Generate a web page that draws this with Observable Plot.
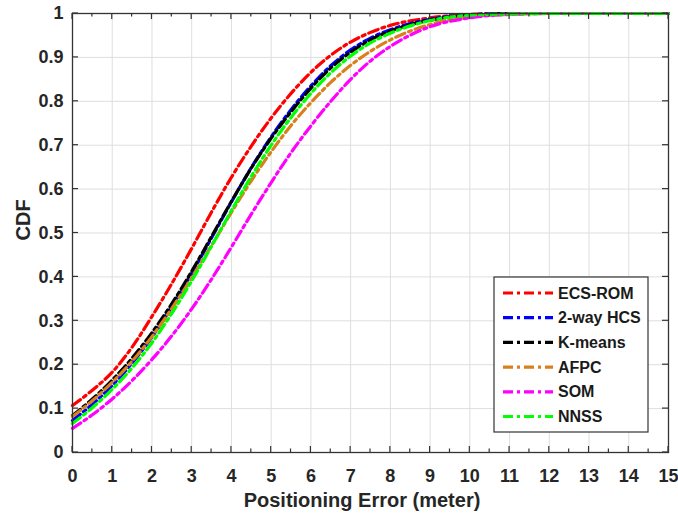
<!DOCTYPE html>
<html>
<head>
<meta charset="utf-8">
<script src="https://cdn.jsdelivr.net/npm/d3@7"></script>
<script src="https://cdn.jsdelivr.net/npm/@observablehq/plot@0.6"></script>
<style>
  html, body { margin: 0; padding: 0; background: #fff; }
  #chart { width: 678px; height: 525px; }
</style>
</head>
<body>
<div id="chart"></div>
<script>
// Positioning error (meters) at which each CDF value is sampled
const errorGrid = [0, 0.5, 1, 1.5, 2, 2.5, 3, 3.5, 4, 4.5, 5, 5.5, 6, 6.5, 7, 7.5, 8, 9, 10, 11, 12, 13, 14, 15];

const methods = ["ECS-ROM", "2-way HCS", "K-means", "AFPC", "SOM", "NNSS"];
const colors  = ["#ff0000", "#0000ff", "#000000", "#d9801c", "#ff00ff", "#00ff00"];

// CDF of positioning error per method
const ecsRom  = [0.107, 0.142, 0.183, 0.240, 0.310, 0.385, 0.465, 0.548, 0.627, 0.698, 0.762, 0.818, 0.866, 0.905, 0.935, 0.957, 0.973, 0.990, 0.998, 1, 1, 1, 1, 1];
const twoWay  = [0.073, 0.110, 0.153, 0.204, 0.263, 0.332, 0.408, 0.489, 0.571, 0.649, 0.719, 0.781, 0.835, 0.881, 0.917, 0.944, 0.963, 0.987, 0.997, 1, 1, 1, 1, 1];
const kMeans  = [0.084, 0.122, 0.165, 0.215, 0.273, 0.339, 0.413, 0.492, 0.572, 0.648, 0.716, 0.776, 0.830, 0.876, 0.912, 0.940, 0.960, 0.985, 0.996, 1, 1, 1, 1, 1];
const afpc    = [0.082, 0.118, 0.160, 0.208, 0.264, 0.328, 0.398, 0.472, 0.547, 0.619, 0.685, 0.745, 0.797, 0.843, 0.882, 0.914, 0.940, 0.975, 0.992, 0.998, 1, 1, 1, 1];
const som     = [0.055, 0.086, 0.122, 0.164, 0.212, 0.266, 0.327, 0.395, 0.468, 0.543, 0.615, 0.683, 0.744, 0.800, 0.850, 0.892, 0.925, 0.970, 0.990, 0.998, 1, 1, 1, 1];
const nnss    = [0.066, 0.102, 0.144, 0.193, 0.250, 0.317, 0.391, 0.470, 0.551, 0.629, 0.700, 0.763, 0.818, 0.865, 0.903, 0.933, 0.955, 0.984, 0.996, 0.999, 1, 1, 1, 1];

const xTicks = [0, 1, 2, 3, 4, 5, 6, 7, 8, 9, 10, 11, 12, 13, 14, 15];
const xMinorTicks = [0.5, 1.5, 2.5, 3.5, 4.5, 5.5, 6.5, 7.5, 8.5, 9.5, 10.5, 11.5, 12.5, 13.5, 14.5];
const yTicks = [0, 0.1, 0.2, 0.3, 0.4, 0.5, 0.6, 0.7, 0.8, 0.9, 1];

const xLabel = "Positioning Error (meter)";
const yLabel = "CDF";

const series = [ecsRom, twoWay, kMeans, afpc, som, nnss];
const rows = methods.flatMap((m, i) =>
  series[i].map((v, j) => ({ method: m, error: errorGrid[j], cdf: v }))
);

const font = "'Liberation Sans', Arial, Helvetica, sans-serif";
const ink = "#262626";
const dash = "10,4,3,4"; // dash-dot

const plot = Plot.plot({
  width: 678,
  height: 525,
  marginLeft: 72,
  marginRight: 10,
  marginTop: 13,
  marginBottom: 73,
  style: { fontFamily: font, background: "#fff", overflow: "visible" },
  x: { domain: [0, 15], label: null },
  y: { domain: [0, 1], label: null },
  color: { domain: methods, range: colors },
  marks: [
    Plot.gridX(xTicks, { stroke: "#dedede", strokeOpacity: 1, strokeWidth: 1 }),
    Plot.gridY(yTicks, { stroke: "#dedede", strokeOpacity: 1, strokeWidth: 1 }),
    Plot.line(rows, {
      x: "error", y: "cdf", z: "method", stroke: "method",
      strokeWidth: 3.2, strokeDasharray: dash, curve: "monotone-x"
    }),
    Plot.frame({ stroke: "#333", strokeWidth: 1.3 }),
    Plot.axisX(xTicks, {
      tickSize: 0, tickPadding: 17, fontSize: 18, fontWeight: "bold",
      fill: ink, tickFormat: d => String(d), label: null
    }),
    Plot.axisY(yTicks, {
      tickSize: 0, tickPadding: 9, fontSize: 18, fontWeight: "bold",
      fill: ink, tickFormat: d => String(d), label: null
    }),
    Plot.text([xLabel], {
      frameAnchor: "bottom", dy: 54, dx: -8.5, fontSize: 20, fontWeight: "bold", fill: ink
    }),
    Plot.text([yLabel], {
      frameAnchor: "left", rotate: -90, dx: -48.5, dy: 7.5, fontSize: 20, fontWeight: "bold", fill: ink
    })
  ]
});

document.getElementById("chart").appendChild(plot);

// Inward box ticks on all four sides, placed through the plot's own scales
const sx = plot.scale("x"), sy = plot.scale("y");
const [x0, x1] = sx.range, [y0, y1] = sy.range; // y0 bottom, y1 top
const svg = d3.select(plot);
const ticks = svg.append("g").attr("stroke", "#333").attr("stroke-width", 1.2);
const major = 6, minor = 3.5;
for (const t of xTicks) {
  const x = sx.apply(t);
  ticks.append("line").attr("x1", x).attr("x2", x).attr("y1", y0).attr("y2", y0 - major);
  ticks.append("line").attr("x1", x).attr("x2", x).attr("y1", y1).attr("y2", y1 + major);
}
for (const t of xMinorTicks) {
  const x = sx.apply(t);
  ticks.append("line").attr("x1", x).attr("x2", x).attr("y1", y0).attr("y2", y0 - minor);
  ticks.append("line").attr("x1", x).attr("x2", x).attr("y1", y1).attr("y2", y1 + minor);
}
for (const t of yTicks) {
  const y = sy.apply(t);
  ticks.append("line").attr("x1", x0).attr("x2", x0 + major).attr("y1", y).attr("y2", y);
  ticks.append("line").attr("x1", x1).attr("x2", x1 - major).attr("y1", y).attr("y2", y);
}

// Legend box in the lower-right corner of the axes
const legend = svg.append("g")
  .attr("transform", `translate(${x1 - 174},${y0 - 175})`)
  .attr("text-anchor", "start")
  .style("font-family", font);
legend.append("rect")
  .attr("width", 154).attr("height", 155)
  .attr("fill", "#fff").attr("stroke", "#333").attr("stroke-width", 1.2);
methods.forEach((m, i) => {
  const cy = 16 + i * 24.7;
  legend.append("line")
    .attr("x1", 9).attr("x2", 59).attr("y1", cy).attr("y2", cy)
    .attr("stroke", colors[i]).attr("stroke-width", 3.2).attr("stroke-dasharray", dash);
  legend.append("text")
    .attr("x", 64).attr("y", cy).attr("dy", "0.35em")
    .attr("text-anchor", "start")
    .attr("font-size", 16).attr("font-weight", "bold").attr("fill", "#1a1a1a")
    .text(m);
});
</script>
</body>
</html>
